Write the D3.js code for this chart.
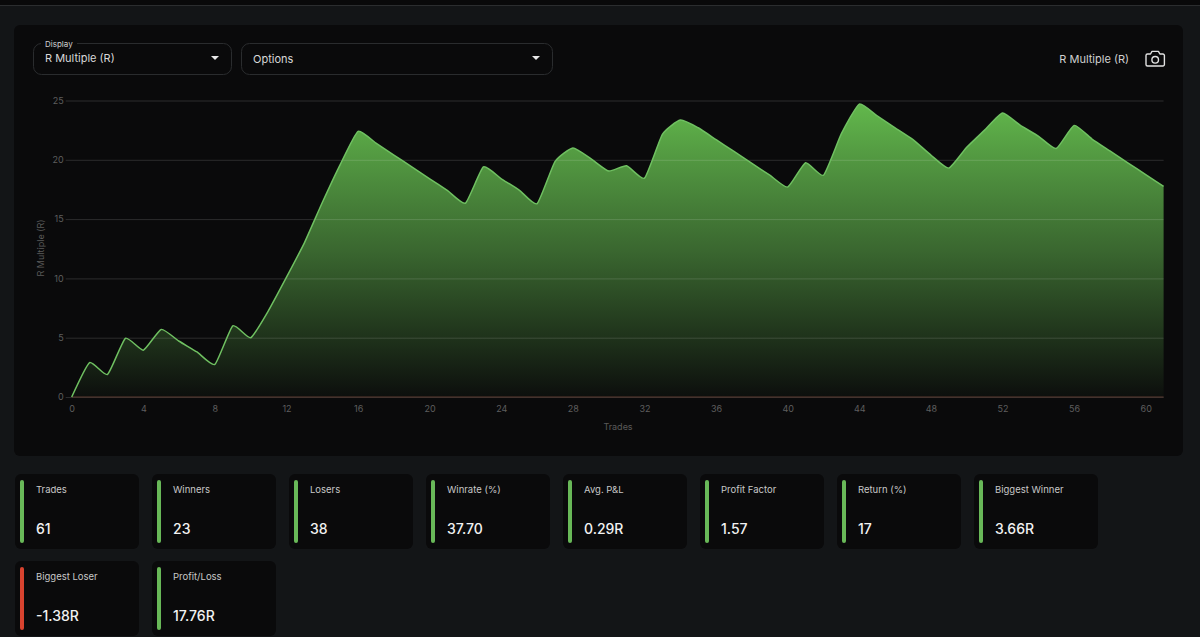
<!DOCTYPE html>
<html>
<head>
<meta charset="utf-8">
<script src="https://cdnjs.cloudflare.com/ajax/libs/d3/7.8.5/d3.min.js"></script>
<style>
  html, body { margin: 0; padding: 0; background: #131517; overflow: hidden; }
  svg { display: block; font-family: Inter, "Noto Sans", sans-serif; }
</style>
</head>
<body>
<svg id="root" width="1200" height="637"></svg>
<script>
// Cumulative R multiple after each trade
const trades = d3.range(0, 62);
const rMultiple = [
  0, 2.9, 1.9, 4.95, 3.95, 5.7, 4.7, 3.8, 2.75, 6.0,
  5.0, 7.3, 10.1, 13.0, 16.4, 19.6, 22.4, 21.4, 20.4, 19.4,
  18.4, 17.4, 16.35, 19.4, 18.4, 17.45, 16.3, 19.85, 21.0, 20.1,
  19.05, 19.5, 18.45, 22.15, 23.35, 22.7, 21.7, 20.7, 19.7, 18.7,
  17.7, 19.75, 18.7, 22.2, 24.7, 23.7, 22.7, 21.7, 20.4, 19.3,
  21.05, 22.5, 23.95, 22.9, 22.0, 20.95, 22.9, 21.75, 20.75, 19.75,
  18.75, 17.76
];
const xTicks = d3.range(0, 61, 4);
const yTicks = [0, 5, 10, 15, 20, 25];

// Summary tiles shown under the chart
const statLabels = ["Trades", "Winners", "Losers", "Winrate (%)", "Avg. P&L", "Profit Factor", "Return (%)", "Biggest Winner", "Biggest Loser", "Profit/Loss"];
const statValues = ["61", "23", "38", "37.70", "0.29R", "1.57", "17", "3.66R", "-1.38R", "17.76R"];
const statTones = ["up", "up", "up", "up", "up", "up", "up", "up", "down", "up"];

const svg = d3.select("#root");
const green = "#68b858";
const red = "#d8432f";

// Page frame
svg.append("rect").attr("width", 1200).attr("height", 637).attr("fill", "#131517");
svg.append("rect").attr("width", 1200).attr("height", 5).attr("fill", "#09090a");
svg.append("rect").attr("y", 5).attr("width", 1200).attr("height", 1).attr("fill", "#2b2d2f");
svg.append("rect").attr("x", 14).attr("y", 25).attr("width", 1169).attr("height", 431).attr("rx", 6).attr("fill", "#0a0a0b");

// Select boxes
function selectBox(x, w, label, textY) {
  const g = svg.append("g");
  g.append("rect").attr("x", x + 0.5).attr("y", 43.5).attr("width", w).attr("height", 31).attr("rx", 8)
    .attr("fill", "none").attr("stroke", "#2a2c2e");
  g.append("text").attr("x", x + 12).attr("y", textY).attr("fill", "#d8d8d8").attr("font-size", 11).text(label);
  const cx = x + w - 16;
  g.append("path").attr("d", `M${cx - 4},56 L${cx + 4},56 L${cx},60 Z`).attr("fill", "#e8e8e8");
  return g;
}
selectBox(33, 198, "R Multiple (R)", 61.5);
selectBox(241, 311, "Options", 62.5);
svg.append("rect").attr("x", 41).attr("y", 40).attr("width", 36).attr("height", 8).attr("fill", "#0a0a0b");
svg.append("text").attr("x", 45).attr("y", 47).attr("fill", "#d0d0d0").attr("font-size", 8).text("Display");

// Chart heading and camera button
svg.append("text").attr("x", 1129).attr("y", 63).attr("text-anchor", "end").attr("fill", "#d0d0d0").attr("font-size", 11).text("R Multiple (R)");
const cam = svg.append("g").attr("fill", "none").attr("stroke", "#e2e2e2").attr("stroke-width", 1.4).attr("stroke-linejoin", "round");
cam.append("path").attr("d", "M1147.5,54 h3 l1.5,-2.6 h6.4 l1.5,2.6 h3 a1.5,1.5 0 0 1 1.5,1.5 v9 a1.5,1.5 0 0 1 -1.5,1.5 h-15.4 a1.5,1.5 0 0 1 -1.5,-1.5 v-9 a1.5,1.5 0 0 1 1.5,-1.5 z");
cam.append("circle").attr("cx", 1155.2).attr("cy", 59.8).attr("r", 3.3);

// Scales
const x = d3.scaleLinear().domain([0, 61]).range([71.7, 1163.6]);
const y = d3.scaleLinear().domain([0, 25]).range([397, 100.5]);

const defs = svg.append("defs");
const grad = defs.append("linearGradient").attr("id", "equityFill")
  .attr("gradientUnits", "userSpaceOnUse")
  .attr("x1", 0).attr("x2", 0).attr("y1", y(d3.max(rMultiple))).attr("y2", y(0));
grad.append("stop").attr("offset", 0).attr("stop-color", "#62b84c").attr("stop-opacity", 1);
grad.append("stop").attr("offset", 0.5).attr("stop-color", "#5aa548").attr("stop-opacity", 0.6);
grad.append("stop").attr("offset", 1).attr("stop-color", "#5aa548").attr("stop-opacity", 0.03);

const curve = d3.curveCardinal.tension(0.5);
const area = d3.area().x((d, i) => x(trades[i])).y0(y(0)).y1(d => y(d)).curve(curve);
const line = d3.line().x((d, i) => x(trades[i])).y(d => y(d)).curve(curve);

svg.append("path").datum(rMultiple).attr("d", area).attr("fill", "url(#equityFill)");

// Axes
const yAxis = d3.axisLeft(y).tickValues(yTicks).tickSize(6).tickPadding(2);
const gy = svg.append("g").attr("transform", `translate(${x(0)},0)`).call(yAxis);
gy.select(".domain").remove();
gy.selectAll("line").attr("x1", -6).attr("x2", x.range()[1] - x(0)).attr("stroke", "rgba(255,255,255,0.14)");
gy.selectAll("text").attr("fill", "#5e5e5e").attr("font-size", 9);

const xAxis = d3.axisBottom(x).tickValues(xTicks).tickSize(0).tickPadding(9);
const gx = svg.append("g").attr("transform", `translate(0,${y(0)})`).call(xAxis);
gx.select(".domain").remove();
gx.selectAll("text").attr("fill", "#5e5e5e").attr("font-size", 9);

// Baseline at zero
svg.append("line").attr("x1", x.range()[0]).attr("x2", x.range()[1]).attr("y1", y(0)).attr("y2", y(0))
  .attr("stroke", "#5a3a30").attr("stroke-width", 1);

svg.append("path").datum(rMultiple).attr("d", line).attr("fill", "none").attr("stroke", "#6fc061").attr("stroke-width", 1.5);

svg.selectAll(".tick text").attr("font-family", "Inter, sans-serif");
svg.append("text").attr("x", 618).attr("y", 430).attr("text-anchor", "middle").attr("fill", "#5a5a5a").attr("font-size", 9).text("Trades");
svg.append("text").attr("transform", "translate(44,248) rotate(-90)").attr("text-anchor", "middle").attr("fill", "#5a5a5a").attr("font-size", 9).text("R Multiple (R)");

// Summary tiles, eight per row
const perRow = 8;
const tile = svg.selectAll(".tile").data(statLabels).join("g").attr("class", "tile")
  .attr("transform", (d, i) => `translate(${15 + (i % perRow) * 137},${474 + Math.floor(i / perRow) * 87})`);
tile.append("rect").attr("width", 124).attr("height", 75).attr("rx", 6).attr("fill", "#0a0a0b");
tile.append("rect").attr("x", 5).attr("y", 6).attr("width", 4).attr("height", 63).attr("rx", 2)
  .attr("fill", (d, i) => statTones[i] === "up" ? green : red);
tile.append("text").attr("x", 21).attr("y", 19).attr("fill", "#c8c8c8").attr("font-size", 9.5).text(d => d);
tile.append("text").attr("x", 21).attr("y", 60).attr("fill", "#f2f2f2").attr("font-size", 14).attr("font-weight", 500).text((d, i) => statValues[i]);
</script>
</body>
</html>
